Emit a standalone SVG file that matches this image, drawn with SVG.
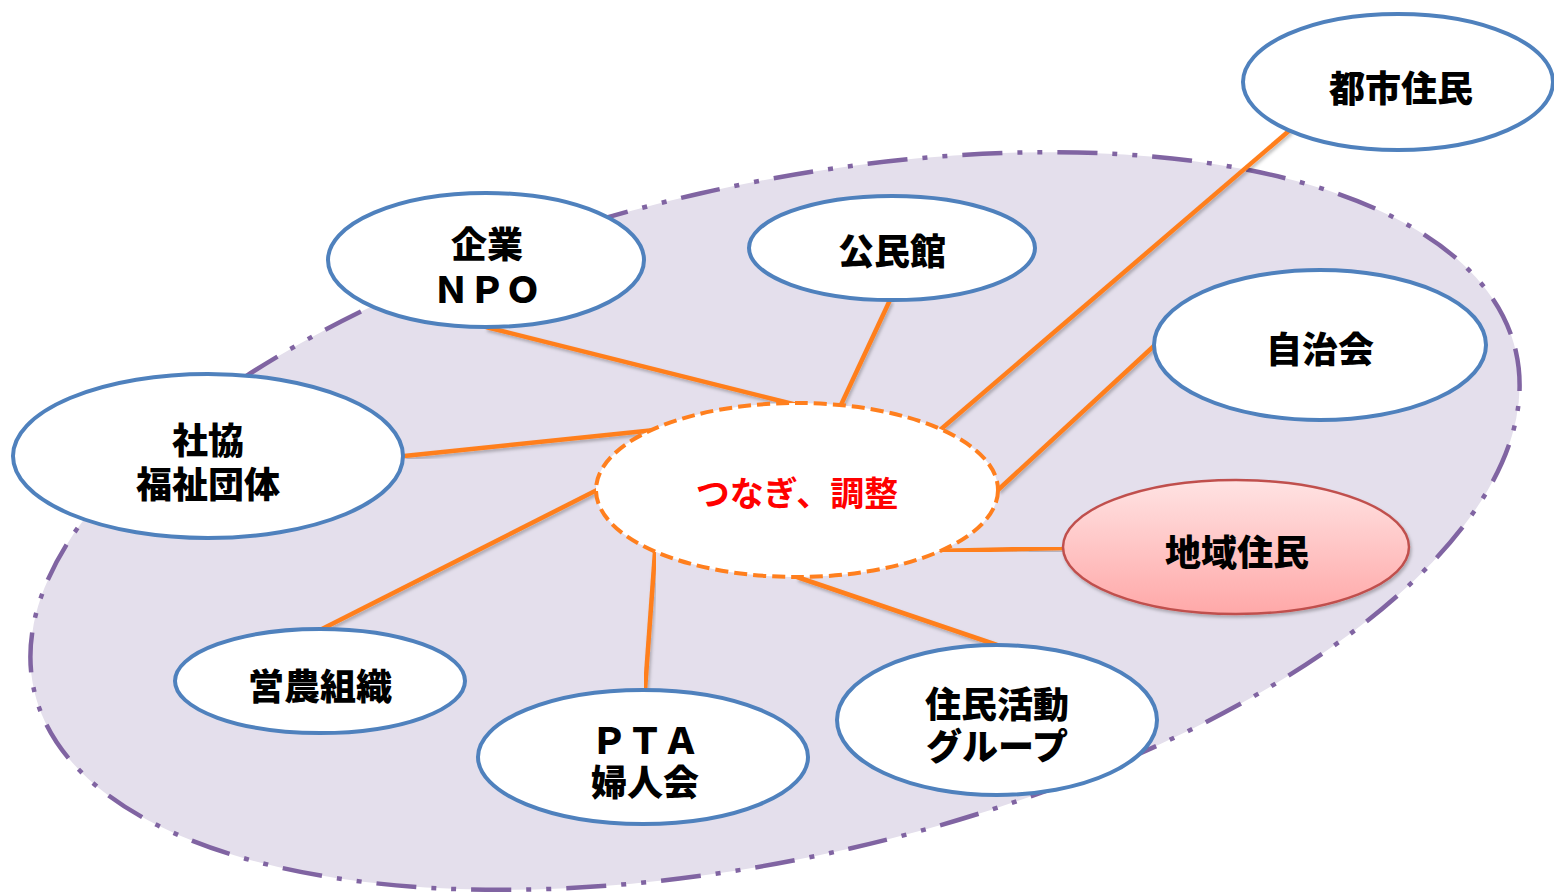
<svg xmlns="http://www.w3.org/2000/svg" width="1554" height="893" viewBox="0 0 1554 893">
<defs>
<style>
.node{fill:#FFFFFF;stroke:#4F81BD;stroke-width:4}
.lbl{font-family:"Noto Sans CJK JP","Noto Sans CJK SC",sans-serif;font-weight:900;font-size:36px;fill:#000000;text-anchor:middle;dominant-baseline:central}
.con{stroke:#FF7F1E;stroke-width:4.5;fill:none;filter:url(#sh)}
</style>
<linearGradient id="pink" x1="0" y1="0" x2="0" y2="1">
<stop offset="0" stop-color="#FFE3E3"/>
<stop offset="1" stop-color="#FFA8A8"/>
</linearGradient>
<filter id="sh" x="-10%" y="-10%" width="120%" height="120%">
<feDropShadow dx="1.5" dy="2.5" stdDeviation="1.5" flood-color="#000000" flood-opacity="0.25"/>
</filter>
</defs>
<rect width="1554" height="893" fill="#FFFFFF"/>
<g id="area">
<ellipse cx="775" cy="521" rx="760" ry="336" transform="rotate(-12.9 775 521)" fill="#E4DFEC" stroke="#8064A2" stroke-width="4.5" stroke-dasharray="40 15 5 15 5 15"/>
</g>
<g id="connectors">
<line class="con" x1="486" y1="327" x2="797" y2="405"/>
<line class="con" x1="890" y1="300" x2="840" y2="407"/>
<line class="con" x1="1290" y1="130" x2="940" y2="430"/>
<line class="con" x1="1155" y1="345" x2="998" y2="490"/>
<line class="con" x1="1063" y1="548" x2="935" y2="551"/>
<line class="con" x1="997" y1="645" x2="797" y2="577"/>
<line class="con" x1="645" y1="690" x2="655" y2="552"/>
<line class="con" x1="320" y1="630" x2="597" y2="490"/>
<line class="con" x1="404" y1="456" x2="655" y2="430"/>
</g>
<g id="center">
<ellipse cx="797" cy="490" rx="201" ry="87" fill="#FFFFFF" stroke="#FF7F1E" stroke-width="4" stroke-dasharray="13 6"/>
<text x="797" y="491" class="lbl" style="font-size:34px;fill:#FF0000;font-weight:700">つなぎ、調整</text>
</g>
<g id="toshi">
<ellipse class="node" cx="1398" cy="82" rx="155" ry="68"/>
<text x="1401" y="86" class="lbl">都市住民</text>
</g>
<g id="kigyo">
<ellipse class="node" cx="486" cy="260" rx="158" ry="67"/>
<text x="487" y="242" class="lbl">企業</text>
<text x="487" y="287" class="lbl">ＮＰＯ</text>
</g>
<g id="kominkan">
<ellipse class="node" cx="892" cy="248" rx="143" ry="52"/>
<text x="892" y="249" class="lbl">公民館</text>
</g>
<g id="jichikai">
<ellipse class="node" cx="1320" cy="345" rx="166" ry="75"/>
<text x="1320" y="347" class="lbl">自治会</text>
</g>
<g id="shakyo">
<ellipse class="node" cx="208" cy="456" rx="195" ry="82"/>
<text x="208" y="438" class="lbl">社協</text>
<text x="208" y="482" class="lbl">福祉団体</text>
</g>
<g id="chiiki">
<ellipse cx="1236" cy="547" rx="173" ry="67" fill="url(#pink)" stroke="#C0504D" stroke-width="2.5" filter="url(#sh)"/>
<text x="1237" y="550" class="lbl">地域住民</text>
</g>
<g id="einou">
<ellipse class="node" cx="320" cy="681" rx="145" ry="52"/>
<text x="320" y="684" class="lbl">営農組織</text>
</g>
<g id="pta">
<ellipse class="node" cx="643" cy="757" rx="165" ry="67"/>
<text x="645" y="738" class="lbl">ＰＴＡ</text>
<text x="645" y="780" class="lbl">婦人会</text>
</g>
<g id="jumin">
<ellipse class="node" cx="997" cy="720" rx="160" ry="75"/>
<text x="997" y="702" class="lbl">住民活動</text>
<text x="997" y="744" class="lbl">グループ</text>
</g>
</svg>
